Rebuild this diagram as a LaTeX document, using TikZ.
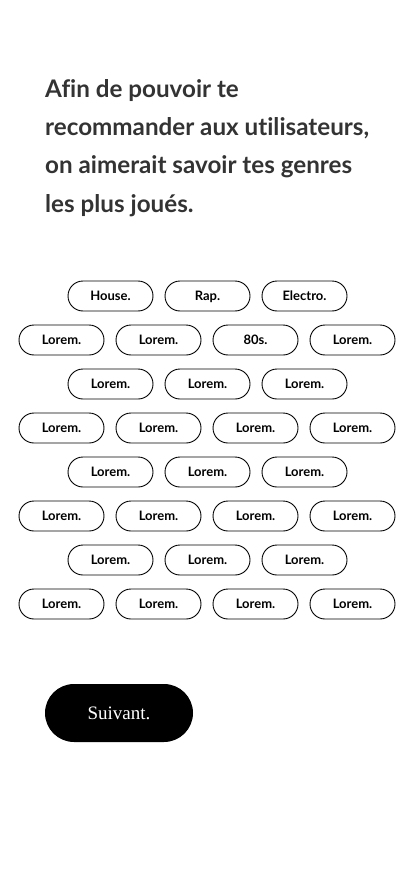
\documentclass[tikz,border=0pt]{standalone}
\usepackage{fontspec}
\setmainfont{Lato}[Ligatures=NoCommon]
\newfontfamily\btnfont{Liberation Serif}
\usetikzlibrary{positioning}
\definecolor{titlegray}{HTML}{333333}

\begin{document}
\begin{tikzpicture}[x=1pt, y=-1pt,
    titleline/.style={anchor=base west, inner sep=0pt, text=titlegray,
      font=\fontsize{24.2}{28}\selectfont\bfseries},
    genre/.style={draw, line width=0.9pt, rounded corners=15pt,
      minimum width=85pt, minimum height=30pt, inner sep=0pt,
      text height=9.3pt, text depth=0pt,
      font=\fontsize{13}{15}\selectfont\bfseries},
    nextbtn/.style={fill=black, rounded corners=29pt, text=white,
      minimum width=148pt, minimum height=58pt, inner sep=0pt,
      text height=12.5pt, text depth=0pt,
      font=\btnfont\fontsize{19}{22}\selectfont}]
  \useasboundingbox (0,0) rectangle (415,896);

  % question
  \node [titleline] (title1) at (45,98) {Afin de pouvoir te};
  \node [titleline] (title2) at (45,136) {recommander aux utilisateurs,};
  \node [titleline] (title3) at (45,174) {on aimerait savoir tes genres};
  \node [titleline] (title4) at (45,212) {les plus joués.};

  % genres
  \node [genre] (house) at (110.5,296) {House.};
  \node [genre] (rap) at (207.5,296) {Rap.};
  \node [genre] (electro) at (304.5,296) {Electro.};

  \foreach \txt [count=\i] in {Lorem., Lorem., 80s., Lorem.}
    \node [genre] (rowb-\i) at (61.5+97*\i-97,340) {\txt};

  \foreach \y [count=\r] in {384,472,560}
    \foreach \i in {1,2,3}
      \node [genre] (rowodd-\r-\i) at (13.5+97*\i,\y) {Lorem.};

  \foreach \y [count=\r] in {428,516,604}
    \foreach \i in {1,...,4}
      \node [genre] (roweven-\r-\i) at (-35.5+97*\i,\y) {Lorem.};

  % bouton
  \node [nextbtn] (suivant) at (119,713) {Suivant.};

\end{tikzpicture}
\end{document}
